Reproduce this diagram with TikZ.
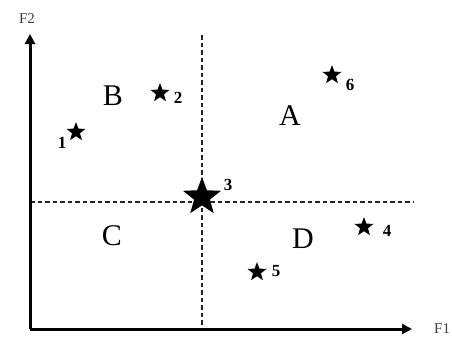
\documentclass[tikz,border=0pt]{standalone}
\usepackage{fontspec}
\setmainfont{Liberation Serif}
\usetikzlibrary{shapes.geometric,arrows.meta}
\begin{document}
\begin{tikzpicture}[x=1pt,y=-1pt,
  axis/.style={line width=3pt,-{Triangle[length=10pt,width=10pt]}},
  guide/.style={line width=1.3pt,dash pattern=on 4.5pt off 3pt,black!85},
  smallstar/.style={star,star points=5,star point ratio=2.4,fill=black,inner sep=0pt,minimum size=20pt},
  bigstar/.style={star,star points=5,star point ratio=2.4,fill=black,inner sep=0pt,minimum size=40pt},
  region/.style={font=\fontsize{30}{30}\selectfont,inner sep=0pt},
  num/.style={font=\fontsize{17}{17}\selectfont\bfseries,inner sep=0pt},
  axlabel/.style={font=\fontsize{15}{15}\selectfont,inner sep=0pt,black!75}]
\useasboundingbox (0,0) rectangle (452,341);
\coordinate (O) at (30,329);
\coordinate (ytop) at (30,34);
\coordinate (xend) at (412,329);
\coordinate (vtop) at (202,35);
\coordinate (vbot) at (202,331);
\coordinate (hl) at (30,202);
\coordinate (hr) at (414,202);
\draw[guide] (vtop) -- (vbot);
\draw[guide] (hl) -- (hr);
\draw[axis] (O) -- (ytop);
\draw[axis] (O) -- (xend);
\node[axlabel] (f2) at (27,19) {F2};
\node[axlabel,anchor=west] (f1) at (434,329) {F1};
\node[region] (B) at (113,96) {B};
\node[region] (A) at (290,116) {A};
\node[region] (C) at (112,236) {C};
\node[region] (D) at (303,239) {D};
\node[smallstar] (s1) at (76,132) {};
\node[num] (n1) at (62,143) {1};
\node[smallstar] (s2) at (160,93) {};
\node[num] (n2) at (178,98) {2};
\node[bigstar] (s3) at (202,197) {};
\node[num] (n3) at (228,185) {3};
\node[smallstar] (s6) at (332,75) {};
\node[num] (n6) at (350,85) {6};
\node[smallstar] (s4) at (364,227) {};
\node[num] (n4) at (387,231) {4};
\node[smallstar] (s5) at (257,272) {};
\node[num] (n5) at (276,271) {5};
\end{tikzpicture}
\end{document}
